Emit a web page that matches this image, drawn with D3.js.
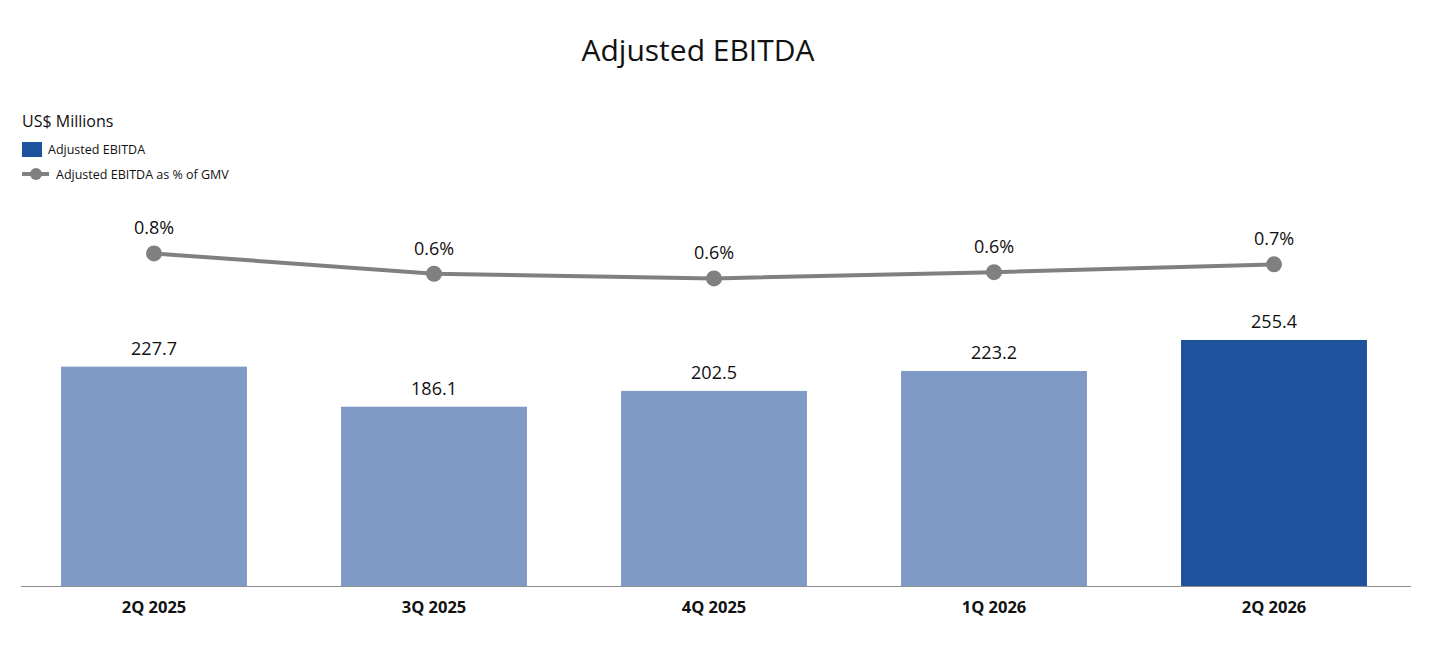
<!DOCTYPE html>
<html>
<head>
<meta charset="utf-8">
<script src="https://cdn.jsdelivr.net/npm/d3@7"></script>
<style>
    body { margin: 0; background: #fff; }
    text { font-family: "Open Sans", "Noto Sans", sans-serif; fill: #111; }
</style>
</head>
<body>
<svg id="chart" width="1440" height="650"></svg>
<script>
const quarters = ["2Q 2025", "3Q 2025", "4Q 2025", "1Q 2026", "2Q 2026"];
const ebitda = [227.7, 186.1, 202.5, 223.2, 255.4];
const pctGmv = [0.76, 0.63, 0.60, 0.64, 0.69];
const pctLabels = ["0.8%", "0.6%", "0.6%", "0.6%", "0.7%"];

const largeur = 1440,
    hauteur = 650;

const svgSpace = d3.select("#chart");

const x = d3.scaleBand()
    .domain(quarters)
    .range([14, 1414])
    .paddingInner(0.336)
    .paddingOuter(0.168);

const y = d3.scaleLinear().domain([0, 600]).range([586, 8]);
const y2 = d3.scaleLinear().domain([0, 1]).range([372, 216]);

// title
svgSpace.append("text")
    .attr("x", 698).attr("y", 61)
    .attr("text-anchor", "middle")
    .style("font-size", "30px")
    .text("Adjusted EBITDA");

// legend
svgSpace.append("text")
    .attr("x", 22).attr("y", 127)
    .style("font-size", "16px")
    .text("US$ Millions");

svgSpace.append("rect")
    .attr("x", 22).attr("y", 142)
    .attr("width", 20).attr("height", 15)
    .attr("fill", "#1f529c");
svgSpace.append("text")
    .attr("x", 48).attr("y", 154)
    .style("font-size", "12.5px")
    .text("Adjusted EBITDA");

svgSpace.append("line")
    .attr("x1", 22).attr("x2", 49)
    .attr("y1", 174).attr("y2", 174)
    .attr("stroke", "#808080").attr("stroke-width", 4);
svgSpace.append("circle")
    .attr("cx", 36).attr("cy", 174).attr("r", 6)
    .attr("fill", "#808080");
svgSpace.append("text")
    .attr("x", 56).attr("y", 179)
    .style("font-size", "12.5px")
    .text("Adjusted EBITDA as % of GMV");

// bars
svgSpace.append("g")
    .selectAll("rect")
    .data(ebitda)
    .enter()
    .append("rect")
    .attr("x", (d, i) => x(quarters[i]))
    .attr("y", (d) => y(d))
    .attr("width", x.bandwidth())
    .attr("height", (d) => y(0) - y(d))
    .attr("fill", (d, i) => i === quarters.length - 1 ? "#1f529c" : "#7f9ac7");

svgSpace.append("g")
    .selectAll("text")
    .data(ebitda)
    .enter()
    .append("text")
    .attr("x", (d, i) => x(quarters[i]) + x.bandwidth() / 2)
    .attr("y", (d) => y(d) - 12)
    .attr("text-anchor", "middle")
    .style("font-size", "18px")
    .text((d) => d.toFixed(1));

// x axis
const xAxis = svgSpace.append("g")
    .attr("transform", "translate(0,586)")
    .call(d3.axisBottom(x).tickSize(0).tickPadding(15));
xAxis.select(".domain")
    .attr("d", "M21,0.5H1411")
    .attr("stroke", "#8c8c8c")
    .attr("stroke-width", 1.2);
xAxis.selectAll("text")
    .style("font-size", "16.5px")
    .style("font-weight", "bold")
    .style("font-family", "'Open Sans', sans-serif")
    .attr("fill", "#111");

// line
const cx = (i) => x(quarters[i]) + x.bandwidth() / 2;

svgSpace.append("path")
    .datum(pctGmv)
    .attr("fill", "none")
    .attr("stroke", "#808080")
    .attr("stroke-width", 4)
    .attr("d", d3.line().x((d, i) => cx(i)).y((d) => y2(d)));

svgSpace.append("g")
    .selectAll("circle")
    .data(pctGmv)
    .enter()
    .append("circle")
    .attr("cx", (d, i) => cx(i))
    .attr("cy", (d) => y2(d))
    .attr("r", 8)
    .attr("fill", "#808080");

svgSpace.append("g")
    .selectAll("text")
    .data(pctGmv)
    .enter()
    .append("text")
    .attr("x", (d, i) => cx(i))
    .attr("y", (d) => y2(d) - 19)
    .attr("text-anchor", "middle")
    .style("font-size", "18px")
    .text((d, i) => pctLabels[i]);
</script>
</body>
</html>
